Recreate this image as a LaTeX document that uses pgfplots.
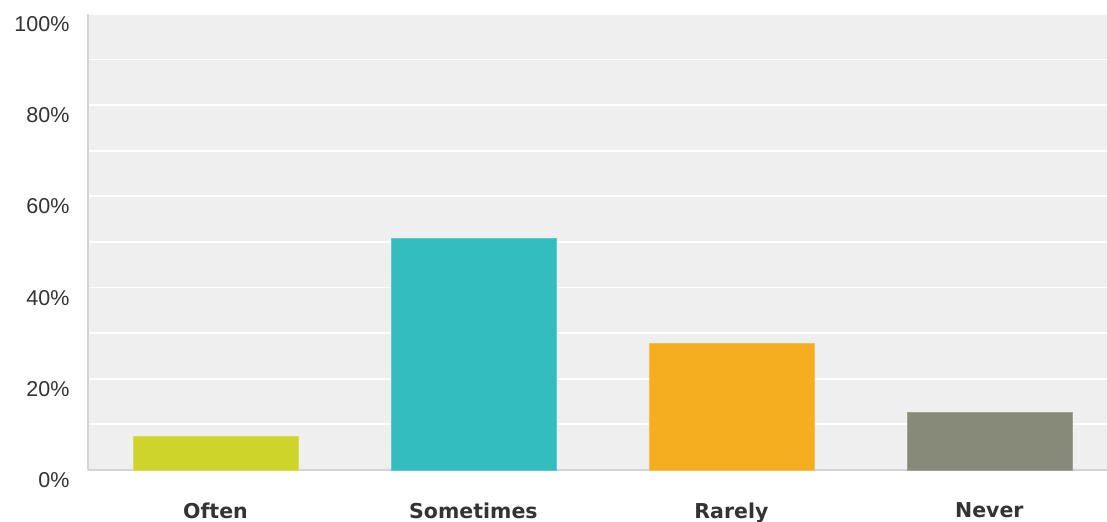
\documentclass[border=0pt]{standalone}
\usepackage{fontspec}
\setmainfont{Liberation Sans}
\newfontfamily\xlabfont{DejaVu Sans}
\usepackage{pgfplots}
\pgfplotsset{compat=1.18}
\definecolor{bg}{HTML}{EFEFEF}
\definecolor{axl}{HTML}{D4D4D4}
\definecolor{cOften}{HTML}{CFD42A}
\definecolor{cSome}{HTML}{33BDBF}
\definecolor{cRare}{HTML}{F5AE20}
\definecolor{cNever}{HTML}{878A78}
\definecolor{txt}{HTML}{333333}
\begin{document}
\begin{tikzpicture}
\useasboundingbox (-88bp,-52bp) rectangle (1019bp,470bp);
\begin{axis}[
  scale only axis,
  width=1019bp, height=456bp,
  xmin=-0.494, xmax=3.456,
  ymin=0, ymax=100,
  axis background/.style={fill=bg},
  axis x line=bottom, axis y line=left,
  axis line style={draw=axl, line width=1.6bp, -},
  ytick={0,20,40,60,80,100},
  yticklabels={0\%,20\%,40\%,60\%,80\%,100\%},
  minor ytick={10,30,50,70,90},
  ymajorgrids, yminorgrids,
  major grid style={draw=white, line width=1.8bp},
  minor grid style={draw=white, line width=1.8bp},
  major tick length=0pt, minor tick length=0pt,
  xtick={0,1,2,3},
  xticklabels={Often,Sometimes,Rarely,Never},
  ticklabel style={font=\fontsize{21.5bp}{25bp}\selectfont, text=txt},
  yticklabel style={anchor=east, yshift=-10bp, xshift=-15bp},
  xticklabel style={font=\xlabfont\fontsize{20.5bp}{25bp}\selectfont\bfseries, anchor=north, yshift=-29bp},
  ybar, bar width=165bp, bar shift=0pt,
  clip=false,
]
\addplot[fill=cOften, draw=cOften!80!white] coordinates {(0,7.5)};
\addplot[fill=cSome, draw=cSome!80!white] coordinates {(1,50.8)};
\addplot[fill=cRare, draw=cRare!80!white] coordinates {(2,27.9)};
\addplot[fill=cNever, draw=cNever!80!white] coordinates {(3,12.6)};
\end{axis}
\end{tikzpicture}
\end{document}
